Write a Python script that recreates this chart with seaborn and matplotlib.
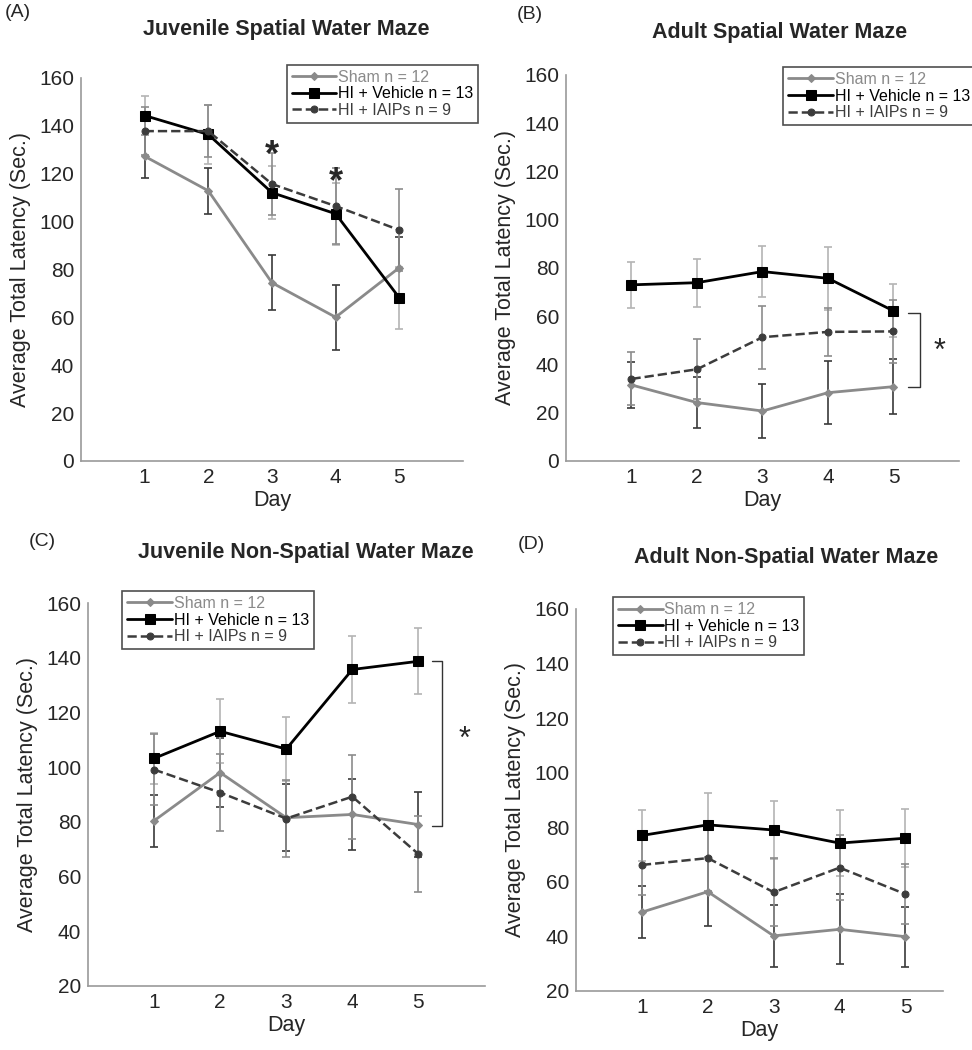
import matplotlib
matplotlib.use("Agg")
import matplotlib.pyplot as plt
import numpy as np
import pandas as pd
import seaborn as sns

sns.set_theme(style="white")
plt.rcParams["font.family"] = ["Liberation Sans", "DejaVu Sans"]

DAYS = [1, 2, 3, 4, 5]
GROUPS = ["Sham n = 12", "HI + Vehicle n = 13", "HI + IAIPs n = 9"]

# (A) Juvenile spatial
A_SHAM = [127.2, 112.8, 74.4, 60.0, 80.7]
A_SHAM_ERR = [9.0, 9.5, 11.5, 13.5, 13.0]
A_VEH = [144.2, 136.3, 112.0, 103.2, 68.1]
A_VEH_ERR = [8.0, 12.5, 11.0, 13.0, 13.0]
A_IAIP = [137.7, 137.7, 115.6, 106.4, 96.4]
A_IAIP_ERR = [10.0, 11.0, 13.0, 16.0, 17.0]

# (B) Adult spatial
B_SHAM = [31.5, 24.2, 20.7, 28.3, 30.8]
B_SHAM_ERR = [9.7, 10.4, 11.0, 13.0, 11.5]
B_VEH = [73.0, 73.9, 78.5, 75.7, 62.2]
B_VEH_ERR = [9.5, 10.0, 10.5, 13.0, 11.0]
B_IAIP = [34.0, 38.0, 51.3, 53.5, 53.7]
B_IAIP_ERR = [11.0, 12.4, 13.0, 10.0, 13.0]

# (C) Juvenile non-spatial
C_SHAM = [80.4, 98.0, 81.5, 82.7, 79.0]
C_SHAM_ERR = [9.5, 12.5, 12.3, 13.0, 12.0]
C_VEH = [103.2, 113.1, 106.6, 135.7, 138.7]
C_VEH_ERR = [9.3, 11.7, 11.8, 12.3, 12.0]
C_IAIP = [99.1, 90.7, 81.2, 89.2, 68.2]
C_IAIP_ERR = [13.0, 14.0, 14.0, 15.3, 14.0]

# (D) Adult non-spatial
D_SHAM = [48.9, 56.4, 40.2, 42.6, 39.9]
D_SHAM_ERR = [9.6, 12.6, 11.3, 12.8, 11.0]
D_VEH = [77.0, 80.9, 79.0, 74.2, 76.0]
D_VEH_ERR = [9.4, 11.8, 10.7, 12.2, 10.7]
D_IAIP = [66.2, 68.7, 56.2, 65.2, 55.5]
D_IAIP_ERR = [11.0, 12.0, 12.5, 12.0, 11.0]

LINE_COLORS = ["#8a8a8a", "#000000", "#3c3c3c"]
ERR_COLORS = ["#3a3a3a", "#b4b4b4", "#8c8c8c"]
MARKERS = ["D", "s", "o"]
MARKER_SIZES = [4, 7.5, 5]
DASHES = ["-", "-", "--"]
LINE_WIDTHS = [2.0, 2.0, 1.8]


def draw_panel(fig, rect, letter, letter_xy, title, title_xy, series, errors,
               ylim, yticks, xlim, legend_box):
    ax = fig.add_axes(rect)
    for i, (vals, errs) in enumerate(zip(series, errors)):
        ax.errorbar(DAYS, vals, yerr=errs, fmt="none", ecolor=ERR_COLORS[i],
                    elinewidth=1.2, capsize=3, capthick=1.2, zorder=1 + i * 0.1)
    for i, vals in enumerate(series):
        df = pd.DataFrame({"day": DAYS, "latency": vals})
        sns.lineplot(data=df, x="day", y="latency", ax=ax, color=LINE_COLORS[i],
                     marker=MARKERS[i], markersize=MARKER_SIZES[i],
                     markeredgecolor=LINE_COLORS[i], linestyle=DASHES[i],
                     linewidth=LINE_WIDTHS[i], label=GROUPS[i], zorder=3 + i)
    ax.set_xlim(*xlim)
    ax.set_ylim(*ylim)
    ax.set_xticks(DAYS)
    ax.set_yticks(yticks)
    ax.tick_params(direction="in", length=5, color="#9a9a9a", labelsize=15,
                   width=1, pad=5)
    for side in ["top", "right"]:
        ax.spines[side].set_visible(False)
    for side in ["left", "bottom"]:
        ax.spines[side].set_color("#9a9a9a")
        ax.spines[side].set_linewidth(1.2)
    ax.set_xlabel("Day", fontsize=15.5, labelpad=2)
    ax.set_ylabel("Average Total Latency (Sec.)", fontsize=15.5, labelpad=6)
    handles, labels = ax.get_legend_handles_labels()
    leg = ax.legend(handles, labels, loc="upper left", bbox_to_anchor=legend_box,
                    bbox_transform=fig.transFigure, frameon=True, fancybox=False,
                    edgecolor="#222222", fontsize=11.5, handlelength=2.8,
                    handletextpad=0.1, borderpad=0.3, labelspacing=0.1,
                    borderaxespad=0)
    leg.get_frame().set_linewidth(1.2)
    for txt, col in zip(leg.get_texts(), LINE_COLORS):
        txt.set_color(col)
    fig.text(letter_xy[0], letter_xy[1], letter, fontsize=14, ha="left", va="center")
    fig.text(title_xy[0], title_xy[1], title, fontsize=15.5, fontweight="bold",
             ha="center", va="center")
    return ax


fig = plt.figure(figsize=(9.72, 10.5), dpi=100)

ax_a = draw_panel(fig, [0.0833, 0.561, 0.393, 0.365], "(A)", (0.005, 0.988),
                  "Juvenile Spatial Water Maze", (0.295, 0.972),
                  [A_SHAM, A_VEH, A_IAIP], [A_SHAM_ERR, A_VEH_ERR, A_IAIP_ERR],
                  (0, 160), range(0, 161, 20), (0, 6), (0.295, 0.938))
ax_a.text(3, 120, "*", fontsize=26, ha="center", va="bottom", fontweight="bold")
ax_a.text(4, 109, "*", fontsize=26, ha="center", va="bottom", fontweight="bold")

ax_b = draw_panel(fig, [0.5823, 0.561, 0.4043, 0.3676], "(B)", (0.532, 0.986),
                  "Adult Spatial Water Maze", (0.802, 0.969),
                  [B_SHAM, B_VEH, B_IAIP], [B_SHAM_ERR, B_VEH_ERR, B_IAIP_ERR],
                  (0, 160), range(0, 161, 20), (0, 6), (0.806, 0.936))
ax_b.plot([5.22, 5.41, 5.41, 5.22], [61.5, 61.5, 30.5, 30.5], color="#333333", lw=1)
ax_b.text(5.7, 45.3, "*", fontsize=22, ha="center", va="center")

ax_c = draw_panel(fig, [0.0905, 0.061, 0.408, 0.3647], "(C)", (0.03, 0.484),
                  "Juvenile Non-Spatial Water Maze", (0.315, 0.474),
                  [C_SHAM, C_VEH, C_IAIP], [C_SHAM_ERR, C_VEH_ERR, C_IAIP_ERR],
                  (20, 160), range(20, 161, 20), (0, 6), (0.126, 0.437))
ax_c.plot([5.2, 5.35, 5.35, 5.2], [138.7, 138.7, 78.4, 78.4], color="#333333", lw=1)
ax_c.text(5.69, 109.8, "*", fontsize=22, ha="center", va="center")

ax_d = draw_panel(fig, [0.5926, 0.0562, 0.3776, 0.3638], "(D)", (0.533, 0.481),
                  "Adult Non-Spatial Water Maze", (0.809, 0.469),
                  [D_SHAM, D_VEH, D_IAIP], [D_SHAM_ERR, D_VEH_ERR, D_IAIP_ERR],
                  (20, 160), range(20, 161, 20), (0, 5.57), (0.631, 0.431))

fig.savefig("out.png", dpi=100)
